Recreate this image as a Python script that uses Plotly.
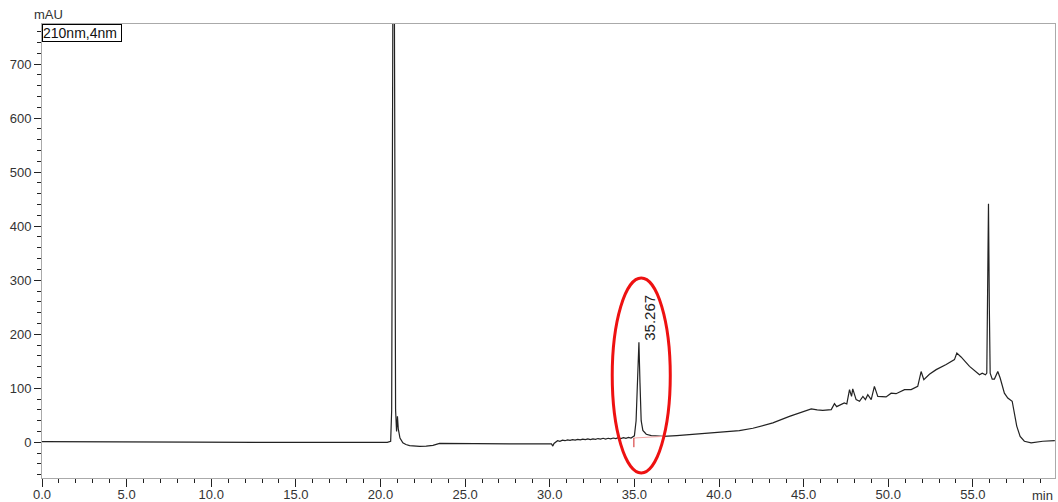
import plotly.graph_objects as go

# Chromatogram trace (retention time in min, absorbance in mAU)
time_min = [0.0, 2.0, 6.0, 9.0, 13.0, 16.0, 20.4, 20.6, 20.66, 20.72, 20.77, 20.83, 20.89, 20.95,
            21.0, 21.05, 21.15, 21.32, 21.5, 21.72, 22.0, 22.31, 22.7, 23.1, 23.49, 24.5, 26.0,
            28.0, 30.1, 30.18, 30.25, 30.46, 30.6, 30.75, 30.9, 31.05, 31.2, 31.35, 31.5, 31.65,
            31.8, 31.95, 32.1, 32.25, 32.4, 32.55, 32.7, 32.85, 33.0, 33.15, 33.3, 33.45, 33.6,
            33.75, 33.9, 34.05, 34.2, 34.35, 34.5, 34.65, 34.8, 34.9,
            35.0, 35.1, 35.18, 35.267, 35.33, 35.4, 35.5, 35.7, 36.0, 36.7, 37.5, 38.85, 39.24,
            40.0, 41.2, 42.0, 43.18, 44.16, 44.75, 45.45, 45.8, 46.13, 46.63, 46.82, 46.95,
            47.1, 47.4, 47.55, 47.71, 47.83, 47.9, 48.1, 48.3, 48.5, 48.65, 48.79, 48.99, 49.18,
            49.38, 49.87, 50.17, 50.46, 50.96, 51.35, 51.74, 51.94, 52.1, 52.43, 52.83, 53.42,
            53.91, 54.05, 54.3, 54.8, 55.39, 55.55, 55.74, 55.82, 55.87, 55.92, 55.97, 56.02,
            56.14, 56.27, 56.47, 56.61, 56.86, 57.06, 57.32, 57.45, 57.59, 57.79, 58.04, 58.44,
            59.13, 59.84]
signal_mau = [1.2, 0.8, 0.5, 0.2, 0.0, 0.0, 0.0, 2, 60, 700, 1400, 700, 60, 20,
              48, 25, 8, -1, -4, -6, -7, -7.4, -7, -5.5, -2, -2.5, -2.5,
              -3, -3, -7, -2, 3, 2, 4, 3, 4.5, 3.5, 5, 4, 5.5,
              4.5, 6, 5, 6.5, 5, 6.5, 5.5, 7, 6, 7.5, 6, 7.5, 6.5,
              8, 7, 8.5, 7, 8.5, 7.5, 9, 8, 10,
              12, 40, 130, 185, 110, 40, 22, 15, 12.5, 11, 12.5, 15.5, 17,
              19, 21.6, 26, 36, 48, 55, 62, 60, 59, 60.5, 71.6, 66,
              68, 73, 71, 97.5, 85, 99, 79, 76, 85, 79, 88, 79, 103.6,
              85, 84, 91, 90, 97.5, 97.5, 103.6, 131, 116, 126, 134.5, 144,
              153, 165, 158, 140.6, 125, 128, 125, 128, 250, 441.5, 250, 128,
              117, 117, 131, 119, 91, 82, 76, 54, 30, 11, 2, -1,
              2, 3]

# Labelled peak and its integration baseline
peak_time = 35.267
peak_height = 185
peak_label = "35.267"
baseline_t = [34.97, 36.7]
baseline_v = [8, 11]

# Highlight ellipse around the labelled peak (data coordinates)
ellipse_t = [33.69, 37.12]
ellipse_v = [-56.6, 304]

x_ticks = [0, 5, 10, 15, 20, 25, 30, 35, 40, 45, 50, 55]
x_tick_labels = ["0.0", "5.0", "10.0", "15.0", "20.0", "25.0", "30.0", "35.0", "40.0", "45.0", "50.0", "55.0"]
y_ticks = [0, 100, 200, 300, 400, 500, 600, 700]

FONT = "Liberation Sans, Arial, sans-serif"

fig = go.Figure()
fig.add_trace(go.Scatter(x=time_min, y=signal_mau, mode="lines",
                         line=dict(color="#222222", width=1.2), hoverinfo="skip",
                         showlegend=False))
# integration baseline (pink)
fig.add_trace(go.Scatter(x=baseline_t, y=baseline_v, mode="lines",
                         line=dict(color="#f4a6a6", width=1), showlegend=False, hoverinfo="skip"))
# integration start marker
fig.add_trace(go.Scatter(x=[baseline_t[0], baseline_t[0]], y=[baseline_v[0] - 17, baseline_v[0] + 0],
                         mode="lines", line=dict(color="#d02020", width=1),
                         showlegend=False, hoverinfo="skip"))

fig.add_shape(type="circle", xref="x", yref="y",
              x0=ellipse_t[0], x1=ellipse_t[1], y0=ellipse_v[0], y1=ellipse_v[1],
              line=dict(color="#ee1111", width=3))

fig.add_annotation(x=peak_time, y=peak_height, text=peak_label, textangle=-90,
                   showarrow=False, xanchor="left", yanchor="bottom", xshift=0, yshift=0,
                   font=dict(family=FONT, size=15, color="#222222"))

fig.add_annotation(xref="paper", yref="paper", x=0, y=1, xanchor="left", yanchor="top",
                   text="210nm,4nm ", showarrow=False, bordercolor="#000000", borderwidth=1,
                   borderpad=0, bgcolor="white", xshift=0,
                   font=dict(family=FONT, size=14, color="#111111"))
fig.add_annotation(xref="paper", yref="paper", x=0, y=1, xanchor="center", yanchor="bottom",
                   text="mAU", showarrow=False, xshift=6, yshift=0,
                   font=dict(family=FONT, size=13, color="#333333"))
fig.add_annotation(xref="paper", yref="paper", x=1, y=0, xanchor="right", yanchor="top",
                   text="min", showarrow=False, xshift=0, yshift=-8,
                   font=dict(family=FONT, size=13, color="#333333"))

fig.update_layout(
    width=1058, height=502,
    margin=dict(l=42, r=3, t=24, b=24),
    paper_bgcolor="white", plot_bgcolor="white",
    font=dict(family=FONT, size=13, color="#333333"),
    showlegend=False,
)
fig.update_xaxes(range=[0, 59.85], tickmode="array", tickvals=x_ticks, ticktext=x_tick_labels,
                 showgrid=False, zeroline=False, showline=True, linecolor="#aaaaaa", linewidth=1,
                 mirror=True, ticks="outside", ticklen=8, tickcolor="#222222", tickwidth=1,
                 ticklabelstandoff=-4,
                 minor=dict(dtick=1, ticks="outside", ticklen=4, tickcolor="#222222", showgrid=False),
                 tickfont=dict(family=FONT, size=13, color="#333333"), automargin=False)
fig.update_yaxes(range=[-66, 774], tickmode="array", tickvals=y_ticks,
                 showgrid=False, zeroline=False, showline=True, linecolor="#aaaaaa", linewidth=1,
                 mirror=True, ticks="outside", ticklen=7, tickcolor="#222222", tickwidth=1,
                 minor=dict(tickmode="linear", tick0=0, dtick=20, ticks="outside", ticklen=4,
                            tickcolor="#222222", showgrid=False),
                 tickfont=dict(family=FONT, size=13, color="#333333"), automargin=False)

fig.write_html("out.html", config={"displayModeBar": False},
               post_script="document.body.style.margin='0';document.body.style.overflow='hidden';")
